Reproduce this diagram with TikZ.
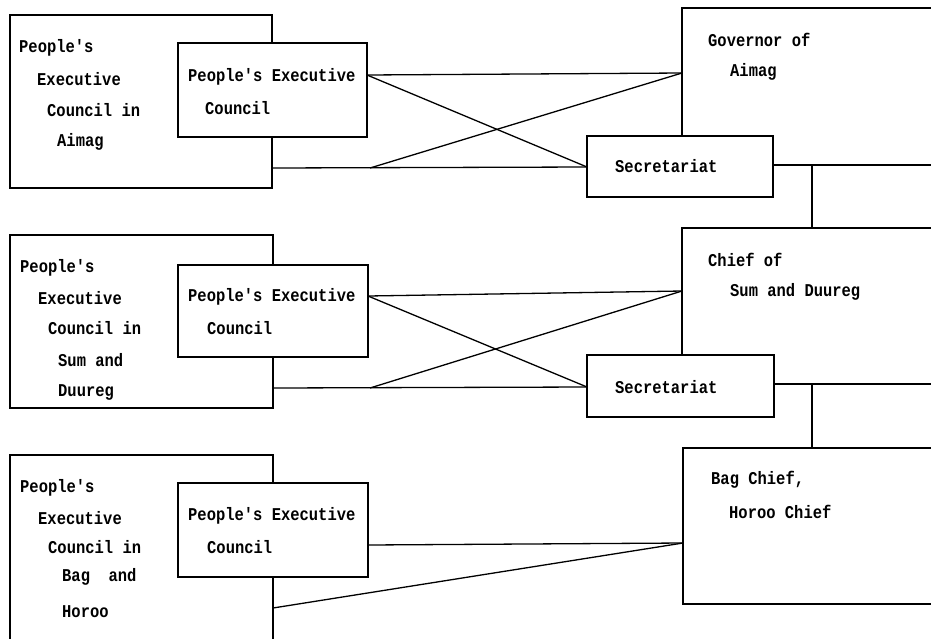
\documentclass[tikz,border=0pt]{standalone}
\usepackage{fontspec}
\newfontfamily\lblfont{Liberation Mono}[FakeStretch=0.86]
\usetikzlibrary{calc}
\begin{document}
\begin{tikzpicture}[x=1pt,y=-1pt,
  box/.style={draw, line width=1.3pt, fill=white, rectangle, inner sep=0pt, outer sep=0pt, anchor=north west},
  conn/.style={line width=1.3pt},
  lbl/.style={anchor=west, inner sep=0pt, font=\lblfont\fontsize{18}{20}\selectfont\bfseries}]
\useasboundingbox (0,0) rectangle (931,638);
\clip (0,0) rectangle (931,638);
\fill[white] (0,0) rectangle (931,638);
% ---------- top block ----------
\node[box, minimum width=262pt, minimum height=173pt] (outA) at (10,15) {};
\node[box, minimum width=189pt, minimum height=94pt] (inA) at (178,43) {};
\node[box, minimum width=300pt, minimum height=157pt] (gov) at (682,8) {};
\node[box, minimum width=186pt, minimum height=61pt] (secA) at (587,136) {};
\node[lbl] (tA1) at (19,48) {People's};
\node[lbl] (tA2) at (37,79) {Executive};
\node[lbl] (tA3) at (47,110) {Council in};
\node[lbl] (tA4) at (57,142) {Aimag};
\node[lbl] (tA5) at (188,77) {People's Executive};
\node[lbl] (tA6) at (205,108) {Council};
\node[lbl] (tA7) at (708,40) {Governor of};
\node[lbl] (tA8) at (730,72) {Aimag};
\node[lbl] (tA9) at (615,166) {Secretariat};
\coordinate (a1) at (inA.east |- 0,75);
\coordinate (a2) at (gov.west |- 0,73);
\coordinate (a3) at (secA.west |- 0,167);
\coordinate (a4) at (outA.east |- 0,168);
\coordinate (a5) at (370,168);
\draw[conn] (a1) -- (a2);
\draw[conn] (a1) -- (a3);
\draw[conn] (a4) -- (a3);
\draw[conn] (a5) -- (a2);
% ---------- middle block ----------
\node[box, minimum width=263pt, minimum height=173pt] (outB) at (10,235) {};
\node[box, minimum width=190pt, minimum height=92pt] (inB) at (178,265) {};
\node[box, minimum width=300pt, minimum height=156pt] (chief) at (682,228) {};
\node[box, minimum width=187pt, minimum height=62pt] (secB) at (587,355) {};
\node[lbl] (tB1) at (20,268) {People's};
\node[lbl] (tB2) at (38,298) {Executive};
\node[lbl] (tB3) at (48,328) {Council in};
\node[lbl] (tB4) at (58,360) {Sum and};
\node[lbl] (tB5) at (58,392) {Duureg};
\node[lbl] (tB6) at (188,297) {People's Executive};
\node[lbl] (tB7) at (207,328) {Council};
\node[lbl] (tB8) at (708,260) {Chief of};
\node[lbl] (tB9) at (730,292) {Sum and Duureg};
\node[lbl] (tB10) at (615,387) {Secretariat};
\coordinate (b1) at (inB.east |- 0,296);
\coordinate (b2) at (chief.west |- 0,291);
\coordinate (b3) at (secB.west |- 0,387);
\coordinate (b4) at (outB.east |- 0,388);
\coordinate (b5) at (370,388);
\draw[conn] (b1) -- (b2);
\draw[conn] (b1) -- (b3);
\draw[conn] (b4) -- (b3);
\draw[conn] (b5) -- (b2);
% ---------- bottom block ----------
\node[box, minimum width=263pt, minimum height=220pt] (outC) at (10,455) {};
\node[box, minimum width=190pt, minimum height=94pt] (inC) at (178,483) {};
\node[box, minimum width=300pt, minimum height=156pt] (bag) at (683,448) {};
\node[lbl] (tC1) at (20,488) {People's};
\node[lbl] (tC2) at (38,518) {Executive};
\node[lbl] (tC3) at (48,547) {Council in};
\node[lbl] (tC4) at (62,577) {Bag\ \ and};
\node[lbl] (tC5) at (62,612) {Horoo};
\node[lbl] (tC6) at (188,516) {People's Executive};
\node[lbl] (tC7) at (207,547) {Council};
\node[lbl] (tC8) at (711,480) {Bag\ Chief,};
\node[lbl] (tC9) at (729,512) {Horoo\ Chief};
\coordinate (c1) at (inC.east |- 0,545);
\coordinate (c2) at (bag.west |- 0,543);
\coordinate (c3) at (outC.east |- 0,608);
\draw[conn] (c1) -- (c2);
\draw[conn] (c3) -- (c2);
% ---------- vertical links ----------
\coordinate (v1) at (gov.south -| 812,0);
\coordinate (v2) at (chief.north -| 812,0);
\coordinate (v3) at (chief.south -| 812,0);
\coordinate (v4) at (bag.north -| 812,0);
\draw[conn] (v1) -- (v2);
\draw[conn] (v3) -- (v4);
\end{tikzpicture}
\end{document}
